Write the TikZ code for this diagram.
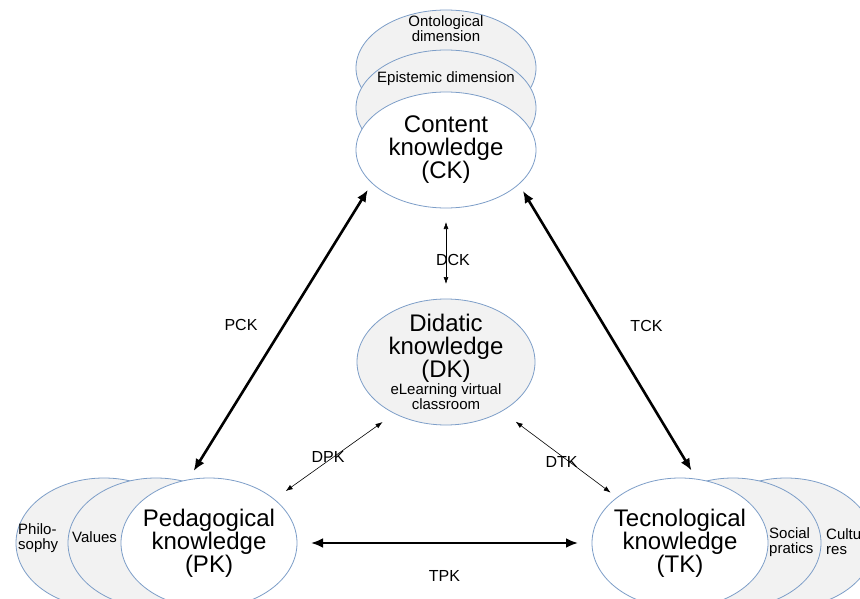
\documentclass[tikz,border=0pt]{standalone}
\usepackage{fontspec}
\setmainfont{Liberation Sans}
\usepackage{xcolor}
\usepackage{tikz}
\usetikzlibrary{shapes.geometric}
\usetikzlibrary{positioning}
\usetikzlibrary{arrows.meta}

\definecolor{rim}{RGB}{125,158,200}
\definecolor{shade}{RGB}{242,242,242}

\begin{document}
\begin{tikzpicture}[x=1pt,y=-1pt,
  blob/.style={ellipse,draw=rim,line width=0.8pt,fill=white,inner sep=0pt,outer sep=8pt},
  backblob/.style={blob,fill=shade},
  big/.style={font=\fontsize{24}{23}\selectfont,align=center,inner sep=0pt},
  small/.style={font=\fontsize{15}{15}\selectfont,align=center,inner sep=0pt},
  tag/.style={font=\fontsize{16}{16}\selectfont,inner sep=0pt},
  strong/.style={{Latex[length=12pt,width=10pt]}-{Latex[length=12pt,width=10pt]},line width=2.6pt},
  weak/.style={{Latex[length=7pt,width=5pt]}-{Latex[length=7pt,width=5pt]},line width=0.6pt}]

\fill[white] (0,0) rectangle (860,599);
\useasboundingbox (0,0) rectangle (860,599);
\clip (0,0) rectangle (860,599);

% Content knowledge and its dimensions
\node[backblob,minimum width=180pt,minimum height=116pt] (onto) at (446,68) {};
\node[backblob,minimum width=180pt,minimum height=116pt] (epis) at (446,108) {};
\node[blob,minimum width=180pt,minimum height=116pt] (CK) at (446,150) {};
\node[small] (onto-txt) at (446,29) {Ontological\\dimension};
\node[small] (epis-txt) at (446,79) {Epistemic dimension};
\node[big] (CK-txt) at (CK) {Content\\knowledge\\(CK)};

% Didatic knowledge
\node[backblob,minimum width=178pt,minimum height=126pt] (DK) at (446,362) {};
\node[big] (DK-txt) at (446,348) {Didatic\\knowledge\\(DK)};
\node[small,below=1pt of DK-txt] (DK-sub) {eLearning virtual\\classroom};

% Pedagogical knowledge
\node[backblob,minimum width=176pt,minimum height=130pt] (philo) at (104,543) {};
\node[backblob,minimum width=176pt,minimum height=130pt] (values) at (156,543) {};
\node[blob,minimum width=176pt,minimum height=130pt] (PK) at (209,543) {};
\node[small,align=left,anchor=west] (philo-txt) at (18,538) {Philo-\\sophy};
\node[small,anchor=west] (values-txt) at (72,537) {Values};
\node[big] (PK-txt) at (PK) {Pedagogical\\knowledge\\(PK)};

% Tecnological knowledge
\node[backblob,minimum width=176pt,minimum height=130pt] (cult) at (786,543) {};
\node[backblob,minimum width=176pt,minimum height=130pt] (social) at (733,543) {};
\node[blob,minimum width=176pt,minimum height=130pt] (TK) at (680,543) {};
\node[small,align=left,anchor=west] (social-txt) at (769,542) {Social\\pratics};
\node[small,align=left,anchor=west] (cult-txt) at (826,542) {Cultu\\res};
\node[big] (TK-txt) at (TK) {Tecnological\\knowledge\\(TK)};

% Draw the relations
\draw[strong] (PK.102) -- (CK.207) node[tag,midway,left=22pt,yshift=5pt] (PCK) {PCK};
\draw[strong] (CK.332) -- (TK.81) node[tag,midway,right=22pt,yshift=5pt] (TCK) {TCK};
\draw[strong,shorten <=6pt,shorten >=6pt] (PK.east) -- (TK.west) node[tag,midway,below=26pt] (TPK) {TPK};
\draw[weak,shorten <=6pt,shorten >=7pt] (CK.south) -- (DK.north) node[tag,midway,xshift=7pt,yshift=-6pt] (DCK) {DCK};
\draw[weak,shorten <=6pt,shorten >=6pt] (DK.224) -- (PK.34) node[tag,midway,xshift=-6pt] (DPK) {DPK};
\draw[weak,shorten <=9pt] (DK.319) -- (TK.144) node[tag,midway,xshift=2pt,yshift=-8pt] (DTK) {DTK};

\end{tikzpicture}
\end{document}
